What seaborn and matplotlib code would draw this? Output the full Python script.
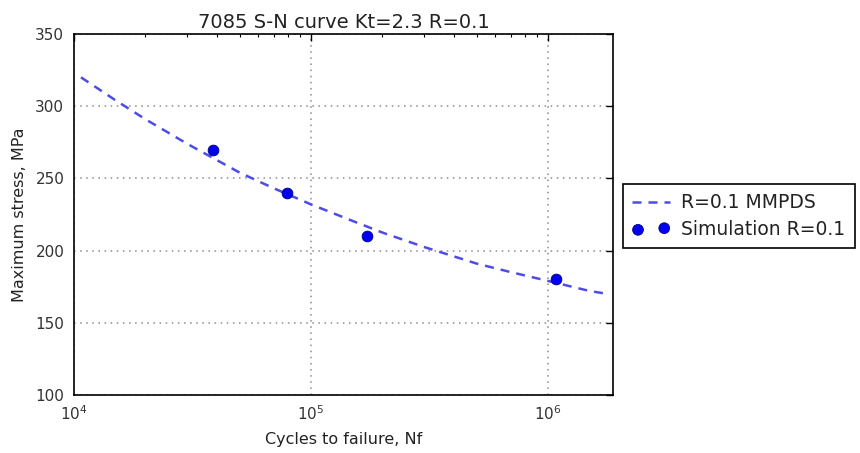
import matplotlib
matplotlib.use("Agg")
import matplotlib.pyplot as plt
from matplotlib.ticker import NullLocator
import seaborn as sns
import pandas as pd

# MMPDS design curve, R = 0.1 (cycles, max stress in MPa)
mmpds_cycles = [1.07e4, 1.5e4, 2e4, 3e4, 5e4, 7e4, 1e5, 1.5e5, 2e5, 3e5,
                5e5, 7e5, 1e6, 1.5e6, 1.71e6]
mmpds_stress = [320, 304, 291, 274, 254, 243, 232, 220.5, 212.5, 202.5,
                191, 185, 179, 172, 170.5]

# Simulated fatigue lives, R = 0.1
sim_cycles = [3.85e4, 7.9e4, 1.73e5, 1.08e6]
sim_stress = [270, 240, 210, 180]

title = "7085 S-N curve Kt=2.3 R=0.1"
xlabel = "Cycles to failure, Nf"
ylabel = "Maximum stress, MPa"
curve_label = "R=0.1 MMPDS"
sim_label = "Simulation R=0.1"

sns.set_style("white")
plt.rcParams["font.family"] = ["DejaVu Sans"]

curve_df = pd.DataFrame({"N": mmpds_cycles, "S": mmpds_stress})
sim_df = pd.DataFrame({"N": sim_cycles, "S": sim_stress})

fig = plt.figure(figsize=(8.6, 4.53), dpi=100)
ax = fig.add_axes([74 / 860, 1 - 395 / 453, (613 - 74) / 860, (395 - 34) / 453])

sns.lineplot(data=curve_df, x="N", y="S", ax=ax, color="#4d4de6",
             linewidth=1.8, linestyle=(0, (3.6, 2.8)), label=curve_label,
             legend=False)
sns.scatterplot(data=sim_df, x="N", y="S", ax=ax, color="#0000ee",
                s=60, edgecolor="#00008b", linewidth=0.6, label=sim_label,
                legend=False, zorder=3)

ax.set_xscale("log")
ax.set_xlim(1e4, 1.88e6)
ax.set_ylim(100, 350)
ax.set_yticks([100, 150, 200, 250, 300, 350])
ax.yaxis.set_minor_locator(NullLocator())

ax.grid(True, which="major", linestyle=(0, (1, 3)), color="0.55", linewidth=1.1)
ax.tick_params(which="both", direction="in", top=True, right=True,
               labelsize=11, colors="black")
ax.tick_params(which="major", length=5, width=1, pad=7)
ax.tick_params(which="minor", length=2.5, width=0.8)
ax.tick_params(axis="both", labelcolor="#333333")
for sp in ax.spines.values():
    sp.set_color("black")
    sp.set_linewidth(1.2)

ax.set_title(title, fontsize=14, color="#222222", pad=4)
ax.set_xlabel(xlabel, fontsize=11.5, color="#222222", labelpad=6)
ax.set_ylabel(ylabel, fontsize=11.5, color="#222222", labelpad=6)

handles, labels = ax.get_legend_handles_labels()
leg = fig.legend(handles, labels, loc="center left",
                 bbox_to_anchor=(623 / 860, 1 - 216 / 453),
                 bbox_transform=fig.transFigure, fontsize=13.5,
                 frameon=True, fancybox=False, framealpha=1,
                 edgecolor="black", scatterpoints=2, handlelength=2.0,
                 borderpad=0.5, labelspacing=0.4, handletextpad=0.6,
                 borderaxespad=0)
leg.get_frame().set_linewidth(1.2)
for t in leg.get_texts():
    t.set_color("#222222")

fig.savefig("out.png", dpi=100)
